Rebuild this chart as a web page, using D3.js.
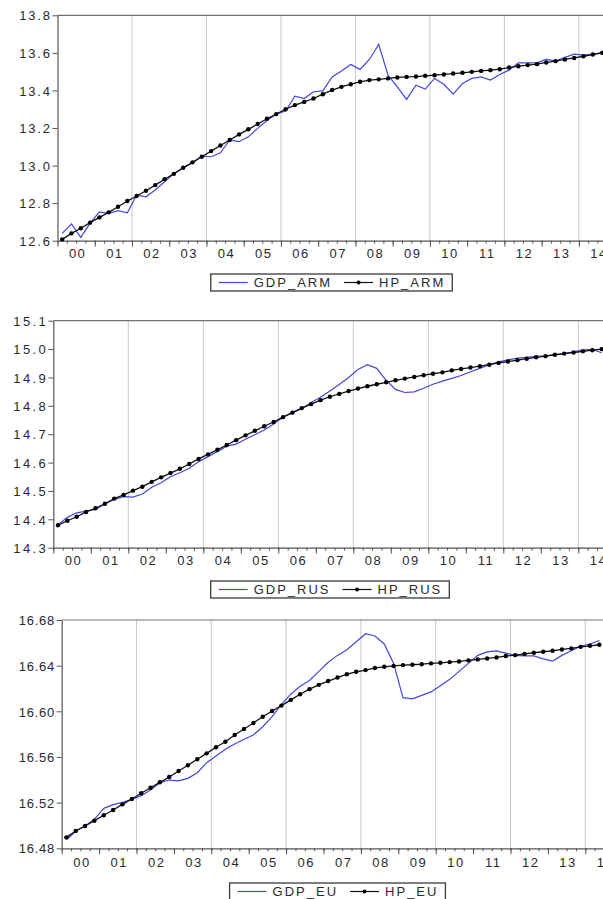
<!DOCTYPE html>
<html><head><meta charset="utf-8">
<script src="https://cdn.jsdelivr.net/npm/d3@7"></script>
<style>
body{margin:0;background:#fff;}
svg text{font-family:"Liberation Sans",Arial,sans-serif;fill:#2a2a2a;}
</style>
</head><body>
<svg id="chart" width="603" height="899"></svg>
<script>
// ---------- data (quarterly, 2000Q1 onward) ----------
const yearLabels = ["00","01","02","03","04","05","06","07","08","09","10","11","12","13","14"];

const gdpArm = [12.639,12.689,12.618,12.693,12.753,12.746,12.760,12.749,12.843,12.834,12.870,12.914,12.958,12.988,13.015,13.050,13.047,13.068,13.136,13.127,13.153,13.198,13.240,13.275,13.290,13.370,13.357,13.393,13.398,13.472,13.504,13.538,13.512,13.565,13.645,13.481,13.419,13.352,13.428,13.407,13.464,13.433,13.380,13.437,13.464,13.472,13.455,13.485,13.508,13.547,13.547,13.547,13.565,13.557,13.576,13.593,13.588,13.593,13.602];
const hpArm = [12.607,12.639,12.666,12.696,12.724,12.751,12.781,12.811,12.838,12.866,12.896,12.927,12.956,12.988,13.017,13.047,13.077,13.107,13.136,13.166,13.193,13.221,13.249,13.274,13.300,13.322,13.339,13.357,13.380,13.402,13.419,13.433,13.446,13.455,13.459,13.464,13.469,13.472,13.474,13.478,13.481,13.485,13.490,13.494,13.499,13.504,13.508,13.513,13.522,13.529,13.535,13.540,13.549,13.556,13.565,13.573,13.582,13.591,13.600];

const gdpRus = [14.380,14.407,14.423,14.429,14.435,14.454,14.470,14.480,14.478,14.489,14.513,14.529,14.550,14.564,14.580,14.603,14.621,14.638,14.658,14.665,14.682,14.698,14.715,14.736,14.760,14.776,14.790,14.812,14.830,14.852,14.875,14.900,14.928,14.945,14.932,14.890,14.858,14.847,14.849,14.862,14.876,14.887,14.897,14.907,14.920,14.932,14.945,14.955,14.962,14.968,14.971,14.974,14.976,14.980,14.985,14.990,14.997,14.999,14.987];
const hpRus = [14.379,14.395,14.409,14.426,14.439,14.455,14.473,14.486,14.501,14.515,14.532,14.548,14.563,14.578,14.595,14.613,14.629,14.645,14.662,14.679,14.696,14.712,14.728,14.743,14.760,14.776,14.792,14.806,14.820,14.832,14.842,14.852,14.861,14.869,14.876,14.883,14.890,14.896,14.902,14.908,14.913,14.918,14.925,14.930,14.935,14.940,14.945,14.951,14.956,14.961,14.966,14.971,14.975,14.980,14.984,14.988,14.992,14.996,15.000];

const gdpEu = [16.4873,16.4952,16.4995,16.5054,16.5150,16.5182,16.5203,16.5229,16.5261,16.5311,16.5375,16.5398,16.5390,16.5413,16.5462,16.5550,16.5609,16.5667,16.5714,16.5755,16.5793,16.5865,16.5953,16.6060,16.6150,16.6220,16.6270,16.6350,16.6430,16.6490,16.6540,16.6610,16.6680,16.6660,16.6590,16.6420,16.6120,16.6110,16.6140,16.6170,16.6225,16.6280,16.6350,16.6420,16.6490,16.6520,16.6530,16.6510,16.6490,16.6485,16.6485,16.6460,16.6440,16.6490,16.6530,16.6570,16.6590,16.6620];
const hpEu = [16.4896,16.4952,16.4995,16.5042,16.5089,16.5136,16.5185,16.5232,16.5282,16.5331,16.5378,16.5425,16.5477,16.5527,16.5580,16.5632,16.5685,16.5734,16.5793,16.5845,16.5898,16.5953,16.6003,16.6050,16.6100,16.6150,16.6194,16.6232,16.6265,16.6296,16.6325,16.6346,16.6361,16.6380,16.6390,16.6398,16.6405,16.6408,16.6413,16.6420,16.6425,16.6431,16.6437,16.6446,16.6455,16.6463,16.6472,16.6484,16.6492,16.6503,16.6513,16.6522,16.6530,16.6542,16.6551,16.6565,16.6574,16.6583];

const ticksArm = [12.6,12.8,13.0,13.2,13.4,13.6,13.8];
const ticksRus = [14.3,14.4,14.5,14.6,14.7,14.8,14.9,15.0,15.1];
const ticksEu  = [16.48,16.52,16.56,16.60,16.64,16.68];

const seriesNames = [["GDP_ARM","HP_ARM"],["GDP_RUS","HP_RUS"],["GDP_EU","HP_EU"]];

// ---------- layout ----------
const BLUE = "#4646dc";
const panels = [
  {gdp:gdpArm, hp:hpArm, ticks:ticksArm, fmt:".1f", names:seriesNames[0],
   left:57.5, top:15.3, bottom:240.7, qw:9.31, labelY:253, ylabLs:1.8, legCx:331.5, legTop:274},
  {gdp:gdpRus, hp:hpRus, ticks:ticksRus, fmt:".1f", names:seriesNames[1],
   left:53.3, top:320.7, bottom:547.7, qw:9.375, labelY:560, ylabLs:2.4, legCx:330, legTop:581},
  {gdp:gdpEu, hp:hpEu, ticks:ticksEu, fmt:".2f", names:seriesNames[2],
   left:61.7, top:620, bottom:848.3, qw:9.35, labelY:862, ylabLs:0.7, legCx:337.5, legTop:883}
];

const svg = d3.select("#chart");

panels.forEach(p => {
  const nQ = 60;
  const x = d3.scaleLinear().domain([0, nQ]).range([p.left, p.left + nQ * p.qw]);
  const y = d3.scaleLinear().domain([p.ticks[0], p.ticks[p.ticks.length-1]]).range([p.bottom, p.top]);
  const right = x(nQ);
  const g = svg.append("g");

  // vertical grid lines at even years
  const gridQ = d3.range(8, nQ, 8);
  g.selectAll(".grid").data(gridQ).join("line")
    .attr("x1", d => x(d)).attr("x2", d => x(d))
    .attr("y1", p.top).attr("y2", p.bottom)
    .attr("stroke", "#c9c9c9").attr("stroke-width", 1);

  // top frame line
  g.append("line").attr("x1", p.left).attr("x2", right)
    .attr("y1", p.top).attr("y2", p.top)
    .attr("stroke", "#707070").attr("stroke-width", 1.2);
  g.append("line").attr("x1", right).attr("x2", right)
    .attr("y1", p.top).attr("y2", p.bottom)
    .attr("stroke", "#707070").attr("stroke-width", 1.2);

  // x axis: minor quarter ticks
  const axMinor = d3.axisBottom(x).tickValues(d3.range(0, nQ+1)).tickSize(3).tickFormat("").tickSizeOuter(0);
  const gxm = g.append("g").attr("transform", `translate(0,${p.bottom})`).call(axMinor);
  // major year ticks
  const axMajor = d3.axisBottom(x).tickValues(d3.range(0, nQ+1, 4)).tickSize(6).tickFormat("").tickSizeOuter(0);
  const gxM = g.append("g").attr("transform", `translate(0,${p.bottom})`).call(axMajor);
  gxM.select(".domain").remove();
  // year labels centered in each year
  const axLab = d3.axisBottom(x).tickValues(d3.range(2, nQ, 4)).tickSize(0)
    .tickFormat((d,i) => yearLabels[i]);
  const gxl = g.append("g").attr("transform", `translate(0,${p.bottom})`).call(axLab);
  gxl.select(".domain").remove();
  gxl.selectAll("text").attr("y", 0).attr("dy", null)
    .attr("transform", `translate(1,${p.labelY - p.bottom + 4.6})`)
    .style("font-size", "13px").style("letter-spacing", "1.5px").attr("fill", "#2a2a2a");
  [gxm, gxM].forEach(s => s.selectAll("line,path").attr("stroke", "#555"));
  gxm.select(".domain").attr("stroke", "#555").attr("stroke-width", 1.2);

  // y axis
  const ay = d3.axisLeft(y).tickValues(p.ticks).tickSize(5).tickSizeOuter(0).tickFormat(d3.format(p.fmt));
  const gy = g.append("g").attr("transform", `translate(${p.left},0)`).call(ay);
  gy.selectAll("line").attr("stroke", "#555");
  gy.select(".domain").attr("stroke", "#555").attr("stroke-width", 1.2);
  gy.selectAll("text").attr("x", -7.5 + p.ylabLs).attr("dy", "0.36em")
    .style("font-size", "13px").style("letter-spacing", p.ylabLs + "px").attr("fill", "#2a2a2a");

  // series
  const line = d3.line().x((d,i) => x(i + 0.5)).y(d => y(d));
  g.append("path").datum(p.gdp).attr("d", line)
    .attr("fill", "none").attr("stroke", BLUE).attr("stroke-width", 1.2);
  g.append("path").datum(p.hp).attr("d", line)
    .attr("fill", "none").attr("stroke", "#111").attr("stroke-width", 1.3);
  g.selectAll(".dot").data(p.hp).join("circle")
    .attr("cx", (d,i) => x(i + 0.5)).attr("cy", d => y(d))
    .attr("r", 2.2).attr("fill", "#000");

  // legend
  const lg = svg.append("g");
  const box = lg.append("rect").attr("fill", "#fff").attr("stroke", "#3a3a3a").attr("stroke-width", 1.3);
  const items = lg.append("g");
  let cx = 8;
  const ty = 8.5;
  items.append("line").attr("x1", cx).attr("x2", cx + 29).attr("y1", ty).attr("y2", ty)
    .attr("stroke", BLUE).attr("stroke-width", 1.2);
  cx += 35;
  const t1 = items.append("text").attr("x", cx).attr("y", ty).attr("dy", "0.36em")
    .style("font-size", "13px").style("letter-spacing", "2px").text(p.names[0]);
  cx += t1.node().getComputedTextLength() + 12;
  items.append("line").attr("x1", cx).attr("x2", cx + 29).attr("y1", ty).attr("y2", ty)
    .attr("stroke", "#111").attr("stroke-width", 1.2);
  items.append("circle").attr("cx", cx + 14.5).attr("cy", ty).attr("r", 2).attr("fill", "#000");
  cx += 35;
  const t2 = items.append("text").attr("x", cx).attr("y", ty).attr("dy", "0.36em")
    .style("font-size", "13px").style("letter-spacing", "2px").text(p.names[1]);
  cx += t2.node().getComputedTextLength() + 7;
  const w = cx;
  box.attr("x", 0).attr("y", 0).attr("width", w).attr("height", 17);
  lg.attr("transform", `translate(${p.legCx - w/2},${p.legTop})`);
});
</script>
</body></html>
